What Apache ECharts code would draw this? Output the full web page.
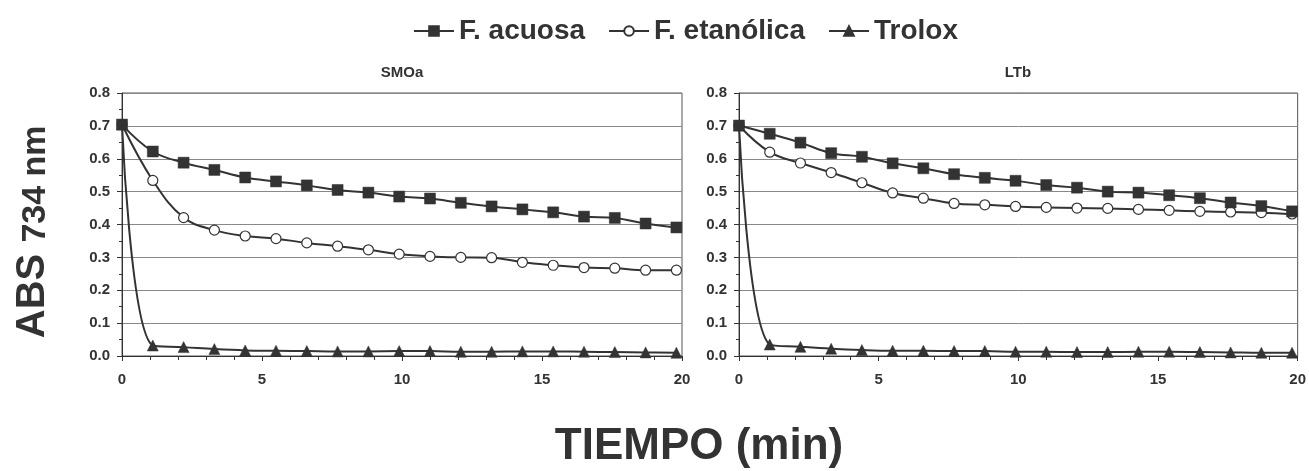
<!DOCTYPE html>
<html>
<head>
<meta charset="utf-8">
<script src="https://cdn.jsdelivr.net/npm/echarts@6/dist/echarts.min.js"></script>
<style>html,body{margin:0;padding:0;background:#fff}#c{width:1309px;height:471px}</style>
</head>
<body>
<div id="c"></div>
<script>
const times = [0, 1.1, 2.2, 3.3, 4.4, 5.5, 6.6, 7.7, 8.8, 9.9, 11, 12.1, 13.2, 14.3, 15.4, 16.5, 17.6, 18.7, 19.8];
const seriesNames = ['F. acuosa', 'F. etanólica', 'Trolox'];
const panelTitles = ['SMOa', 'LTb'];
const yTickLabels = ['0.0', '0.1', '0.2', '0.3', '0.4', '0.5', '0.6', '0.7', '0.8'];
const xTickLabels = ['0', '5', '10', '15', '20'];

const smoaAcuosa = [0.704, 0.622, 0.588, 0.566, 0.543, 0.531, 0.519, 0.505, 0.497, 0.485, 0.479, 0.466, 0.455, 0.446, 0.437, 0.424, 0.420, 0.403, 0.391];
const smoaEtanolica = [0.704, 0.534, 0.421, 0.383, 0.365, 0.357, 0.344, 0.334, 0.323, 0.310, 0.303, 0.300, 0.299, 0.285, 0.276, 0.269, 0.267, 0.261, 0.261];
const smoaTrolox = [0.704, 0.032, 0.027, 0.021, 0.017, 0.016, 0.015, 0.014, 0.014, 0.015, 0.015, 0.013, 0.013, 0.014, 0.014, 0.013, 0.012, 0.011, 0.010];

const ltbAcuosa = [0.701, 0.676, 0.649, 0.617, 0.606, 0.586, 0.571, 0.553, 0.542, 0.533, 0.520, 0.512, 0.500, 0.497, 0.489, 0.480, 0.467, 0.456, 0.440];
const ltbEtanolica = [0.701, 0.620, 0.587, 0.558, 0.527, 0.496, 0.480, 0.464, 0.460, 0.455, 0.452, 0.450, 0.449, 0.446, 0.443, 0.440, 0.438, 0.436, 0.432];
const ltbTrolox = [0.701, 0.035, 0.028, 0.022, 0.018, 0.016, 0.016, 0.015, 0.015, 0.013, 0.013, 0.012, 0.012, 0.013, 0.013, 0.012, 0.011, 0.010, 0.010];

const panels = [
  [smoaAcuosa, smoaEtanolica, smoaTrolox],
  [ltbAcuosa, ltbEtanolica, ltbTrolox]
];

const FONT = "'Liberation Sans', Arial, Helvetica, sans-serif";
const INK = '#333333';
const symbols = ['rect', 'circle', 'triangle'];
const symbolSizes = [11, 10, 11];
const symbolFills = [INK, '#ffffff', INK];

const grids = [
  { left: 122, top: 93, width: 560, height: 263 },
  { left: 739, top: 93, width: 559, height: 263 }
];

function xAxis(i) {
  return {
    type: 'value', gridIndex: i, min: 0, max: 20, interval: 5,
    axisLine: { show: true, lineStyle: { color: INK, width: 1 } },
    axisTick: { show: true, inside: false, length: 5, lineStyle: { color: INK } },
    minorTick: { show: true, splitNumber: 5, length: 4, lineStyle: { color: INK } },
    splitLine: { show: false },
    axisLabel: {
      margin: 16, color: INK, fontFamily: FONT, fontWeight: 'bold', fontSize: 15,
      formatter: v => xTickLabels[Math.round(v / 5)]
    }
  };
}
function yAxis(i) {
  return {
    type: 'value', gridIndex: i, min: 0, max: 0.8, interval: 0.1,
    axisLine: { show: true, lineStyle: { color: INK, width: 1 } },
    axisTick: { show: true, inside: false, length: 5, lineStyle: { color: INK } },
    minorTick: { show: true, splitNumber: 2, length: 3, lineStyle: { color: INK } },
    splitLine: { show: true, lineStyle: { color: '#888888', width: 1 } },
    axisLabel: {
      margin: 12, color: INK, fontFamily: FONT, fontWeight: 'bold', fontSize: 15,
      formatter: v => yTickLabels[Math.round(v * 10)]
    }
  };
}

const series = [];
panels.forEach((p, gi) => {
  p.forEach((vals, si) => {
    series.push({
      name: seriesNames[si], type: 'line', xAxisIndex: gi, yAxisIndex: gi,
      data: times.map((t, k) => [t, vals[k]]),
      smooth: 0.4,
      symbol: symbols[si], symbolSize: symbolSizes[si], showSymbol: true,
      lineStyle: { color: INK, width: 2 },
      itemStyle: { color: symbolFills[si], borderColor: INK, borderWidth: si === 1 ? 1.2 : 0.5 },
      emphasis: { disabled: true },
      animation: false, z: 3 - si
    });
  });
});

const chart = echarts.init(document.getElementById('c'), null, { renderer: 'canvas' });
chart.setOption({
  animation: false,
  backgroundColor: '#ffffff',
  grid: grids.map(g => Object.assign({ show: true, borderColor: '#555555', borderWidth: 1, backgroundColor: 'transparent' }, g)),
  xAxis: [xAxis(0), xAxis(1)],
  yAxis: [yAxis(0), yAxis(1)],
  legend: {
    data: seriesNames, left: 408, top: 12, itemWidth: 40, itemHeight: 12, itemGap: 23,
    textStyle: { color: INK, fontFamily: FONT, fontWeight: 'bold', fontSize: 28 }
  },
  graphic: [
    { type: 'text', x: 402, y: 73, style: { text: panelTitles[0], font: 'bold 15px ' + FONT, fill: INK, textAlign: 'center', textVerticalAlign: 'middle' } },
    { type: 'text', x: 1018, y: 73, style: { text: panelTitles[1], font: 'bold 15px ' + FONT, fill: INK, textAlign: 'center', textVerticalAlign: 'middle' } },
    { type: 'text', x: 699, y: 447, style: { text: 'TIEMPO (min)', font: 'bold 44px ' + FONT, fill: INK, textAlign: 'center', textVerticalAlign: 'middle' } },
    { type: 'text', x: 33, y: 296, rotation: Math.PI / 2, style: { text: 'ABS', font: 'bold 40px ' + FONT, fill: INK, textAlign: 'center', textVerticalAlign: 'middle' } },
    { type: 'text', x: 36, y: 184, rotation: Math.PI / 2, style: { text: '734 nm', font: 'bold 34px ' + FONT, fill: INK, textAlign: 'center', textVerticalAlign: 'middle' } }
  ],
  series: series
});
</script>
</body>
</html>
